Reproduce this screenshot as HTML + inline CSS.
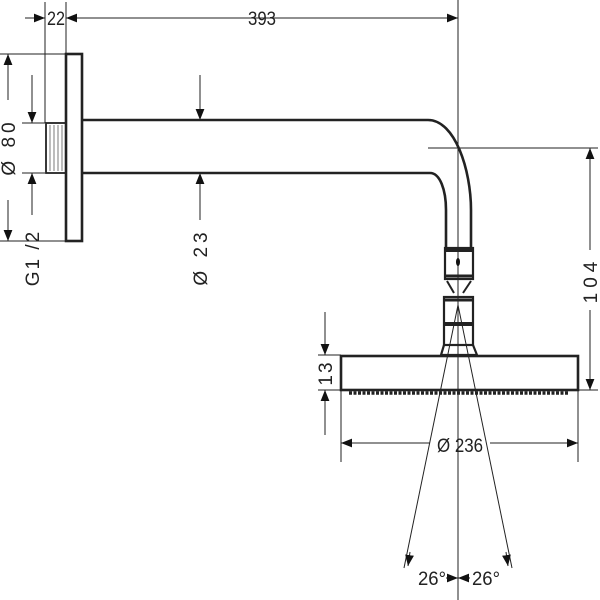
<!DOCTYPE html>
<html><head><meta charset="utf-8"><style>html,body{margin:0;background:#fff}svg{display:block}</style></head><body>
<svg width="600" height="600" viewBox="0 0 600 600" xmlns="http://www.w3.org/2000/svg" font-family="Liberation Sans, sans-serif" fill="none" stroke="#222">
<defs><marker id="a" viewBox="0 0 10 10" refX="10" refY="5" markerWidth="11" markerHeight="11" markerUnits="userSpaceOnUse" orient="auto"><path d="M0,1L10,5L0,9z" fill="#111" stroke="none"/></marker></defs>
<g stroke-width="1">
<line x1="45" y1="2" x2="45" y2="123"/><line x1="66" y1="2" x2="66" y2="54"/><line x1="458" y1="0" x2="458" y2="600"/>
<line x1="25" y1="18" x2="45" y2="18" marker-end="url(#a)"/><line x1="90" y1="18" x2="66" y2="18" marker-end="url(#a)"/>
<line x1="90" y1="18" x2="458" y2="18" marker-end="url(#a)"/>
<line x1="0" y1="54" x2="66" y2="54"/><line x1="0" y1="241" x2="66" y2="241"/>
<line x1="8" y1="100" x2="8" y2="54" marker-end="url(#a)"/><line x1="8" y1="200" x2="8" y2="241" marker-end="url(#a)"/>
<line x1="22" y1="123" x2="45" y2="123"/><line x1="22" y1="173" x2="45" y2="173"/>
<line x1="32" y1="75" x2="32" y2="123" marker-end="url(#a)"/><line x1="32" y1="215" x2="32" y2="173" marker-end="url(#a)"/>
<line x1="200" y1="75" x2="200" y2="120" marker-end="url(#a)"/><line x1="200" y1="220" x2="200" y2="173" marker-end="url(#a)"/>
<line x1="428" y1="148" x2="598" y2="148"/><line x1="578" y1="390" x2="598" y2="390"/>
<line x1="590" y1="250" x2="590" y2="148" marker-end="url(#a)"/><line x1="590" y1="310" x2="590" y2="390" marker-end="url(#a)"/>
<line x1="318" y1="355" x2="341" y2="355"/><line x1="318" y1="390" x2="341" y2="390"/>
<line x1="325" y1="312" x2="325" y2="355" marker-end="url(#a)"/><line x1="325" y1="435" x2="325" y2="390" marker-end="url(#a)"/>
<line x1="341" y1="390" x2="341" y2="462"/><line x1="578" y1="390" x2="578" y2="462"/>
<line x1="430" y1="443" x2="341" y2="443" marker-end="url(#a)"/><line x1="490" y1="443" x2="578" y2="443" marker-end="url(#a)"/>
<line x1="458" y1="305" x2="404" y2="568"/><line x1="458" y1="305" x2="512" y2="568"/>
<line x1="410" y1="552" x2="408" y2="566" marker-end="url(#a)"/><line x1="506" y1="552" x2="508" y2="566" marker-end="url(#a)"/>
<line x1="446" y1="578" x2="458" y2="578" marker-end="url(#a)"/><line x1="470" y1="578" x2="458" y2="578" marker-end="url(#a)"/>
</g>
<g stroke-width="2.6">
<rect x="66" y="54" width="16" height="187"/>
<rect x="46" y="123" width="20" height="50" stroke-width="1.8"/>
<path d="M82,120H428C455,120 471,170 471,210V247"/>
<path d="M82,173H430C440,173 446,190 446,210V247"/>
<rect x="445" y="248" width="28" height="31" stroke-width="2.2"/>
<line x1="445" y1="250" x2="473" y2="250" stroke-width="4"/>
<line x1="445" y1="276" x2="473" y2="276" stroke-width="3"/>
<path d="M447,281L454,293M471,281L463,293" stroke-width="2"/>
<rect x="444" y="297" width="29" height="48" stroke-width="2.2"/>
<line x1="444" y1="300" x2="473" y2="300" stroke-width="3"/>
<line x1="444" y1="324" x2="473" y2="324" stroke-width="4"/>
<path d="M444,345L441,355H477L473,345" stroke-width="2.2"/>
<rect x="341" y="356" width="237" height="34"/>
</g>
<g stroke-width="0.6"><line x1="50" y1="125" x2="50" y2="171"/><line x1="54" y1="125" x2="54" y2="171"/><line x1="58" y1="125" x2="58" y2="171"/><line x1="62" y1="125" x2="62" y2="171"/></g>
<line x1="349" y1="393" x2="568" y2="393" stroke-width="3.5" stroke-dasharray="3,1.5"/>
<ellipse cx="458" cy="262" rx="2" ry="4" fill="#111" stroke="none"/>
<g fill="#222" stroke="none" font-size="19">
<text x="47" y="25" textLength="18" lengthAdjust="spacingAndGlyphs">22</text>
<text x="248" y="25" textLength="28" lengthAdjust="spacingAndGlyphs">393</text>
<text transform="translate(15,147) rotate(-90)" text-anchor="middle" letter-spacing="4">Ø 80</text>
<text transform="translate(39,258) rotate(-90)" text-anchor="middle" letter-spacing="2">G1 /2</text>
<text transform="translate(207,257) rotate(-90)" text-anchor="middle" letter-spacing="4">Ø 23</text>
<text transform="translate(597,280) rotate(-90)" text-anchor="middle" letter-spacing="5">104</text>
<text transform="translate(332,373) rotate(-90)" text-anchor="middle" letter-spacing="2">13</text>
<text x="437" y="452" textLength="46" lengthAdjust="spacingAndGlyphs">Ø 236</text>
<text x="418" y="585" textLength="28" lengthAdjust="spacingAndGlyphs">26°</text>
<text x="472" y="585" textLength="28" lengthAdjust="spacingAndGlyphs">26°</text>
</g>
</svg>
</body></html>
